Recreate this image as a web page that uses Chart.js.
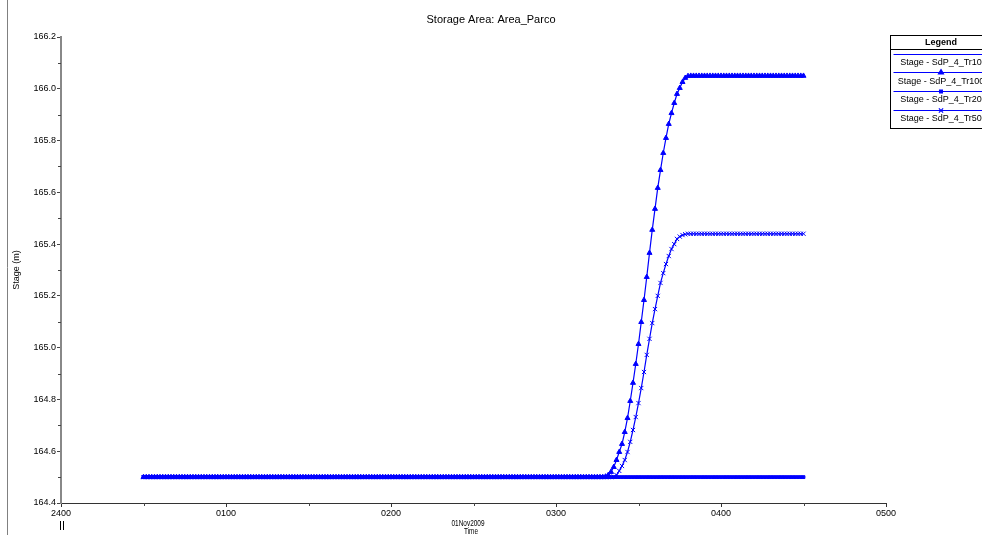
<!DOCTYPE html>
<html lang="it">
<head>
<meta charset="UTF-8">
<title>Storage Area: Area_Parco</title>
<script src="https://cdn.jsdelivr.net/npm/chart.js"></script>
<style>
    body { margin: 0; background: #fff; }
    #wrap { width: 982px; height: 535px; position: relative; }
</style>
</head>
<body>
<div id="wrap"><canvas id="stageChart"></canvas></div>

<script>
    // Stage hydrographs, one value per minute from 00:30 to 04:30 (01Nov2009)
    const chartTitle = 'Storage Area: Area_Parco';
    const seriesNames = ['Stage - SdP_4_Tr10', 'Stage - SdP_4_Tr100', 'Stage - SdP_4_Tr20', 'Stage - SdP_4_Tr50'];
    const startMinute = 30;   // minutes after 2400
    const stepMinutes = 1;
    const timeTickLabels = ['2400', '0100', '0200', '0300', '0400', '0500'];
    const minorTimeTicks = [30, 90, 150, 210, 270];
    const minorStageTicks = [164.5, 164.7, 164.9, 165.1, 165.3, 165.5, 165.7, 165.9, 166.1];

    const stageTr10 = [
        164.5, 164.5, 164.5, 164.5, 164.5, 164.5, 164.5, 164.5, 164.5, 164.5,
        164.5, 164.5, 164.5, 164.5, 164.5, 164.5, 164.5, 164.5, 164.5, 164.5,
        164.5, 164.5, 164.5, 164.5, 164.5, 164.5, 164.5, 164.5, 164.5, 164.5,
        164.5, 164.5, 164.5, 164.5, 164.5, 164.5, 164.5, 164.5, 164.5, 164.5,
        164.5, 164.5, 164.5, 164.5, 164.5, 164.5, 164.5, 164.5, 164.5, 164.5,
        164.5, 164.5, 164.5, 164.5, 164.5, 164.5, 164.5, 164.5, 164.5, 164.5,
        164.5, 164.5, 164.5, 164.5, 164.5, 164.5, 164.5, 164.5, 164.5, 164.5,
        164.5, 164.5, 164.5, 164.5, 164.5, 164.5, 164.5, 164.5, 164.5, 164.5,
        164.5, 164.5, 164.5, 164.5, 164.5, 164.5, 164.5, 164.5, 164.5, 164.5,
        164.5, 164.5, 164.5, 164.5, 164.5, 164.5, 164.5, 164.5, 164.5, 164.5,
        164.5, 164.5, 164.5, 164.5, 164.5, 164.5, 164.5, 164.5, 164.5, 164.5,
        164.5, 164.5, 164.5, 164.5, 164.5, 164.5, 164.5, 164.5, 164.5, 164.5,
        164.5, 164.5, 164.5, 164.5, 164.5, 164.5, 164.5, 164.5, 164.5, 164.5,
        164.5, 164.5, 164.5, 164.5, 164.5, 164.5, 164.5, 164.5, 164.5, 164.5,
        164.5, 164.5, 164.5, 164.5, 164.5, 164.5, 164.5, 164.5, 164.5, 164.5,
        164.5, 164.5, 164.5, 164.5, 164.5, 164.5, 164.5, 164.5, 164.5, 164.5,
        164.5, 164.5, 164.5, 164.5, 164.5, 164.5, 164.5, 164.5, 164.5, 164.5,
        164.5, 164.5, 164.5, 164.5, 164.5, 164.5, 164.5, 164.5, 164.5, 164.5,
        164.5, 164.5, 164.5, 164.5, 164.5, 164.5, 164.5, 164.5, 164.5, 164.5,
        164.5, 164.5, 164.5, 164.5, 164.5, 164.5, 164.5, 164.5, 164.5, 164.5,
        164.5, 164.5, 164.5, 164.5, 164.5, 164.5, 164.5, 164.5, 164.5, 164.5,
        164.5, 164.5, 164.5, 164.5, 164.5, 164.5, 164.5, 164.5, 164.5, 164.5,
        164.5, 164.5, 164.5, 164.5, 164.5, 164.5, 164.5, 164.5, 164.5, 164.5,
        164.5, 164.5, 164.5, 164.5, 164.5, 164.5, 164.5, 164.5, 164.5, 164.5,
        164.5
    ];

    const stageTr100 = [
        164.5, 164.5, 164.5, 164.5, 164.5, 164.5, 164.5, 164.5, 164.5, 164.5,
        164.5, 164.5, 164.5, 164.5, 164.5, 164.5, 164.5, 164.5, 164.5, 164.5,
        164.5, 164.5, 164.5, 164.5, 164.5, 164.5, 164.5, 164.5, 164.5, 164.5,
        164.5, 164.5, 164.5, 164.5, 164.5, 164.5, 164.5, 164.5, 164.5, 164.5,
        164.5, 164.5, 164.5, 164.5, 164.5, 164.5, 164.5, 164.5, 164.5, 164.5,
        164.5, 164.5, 164.5, 164.5, 164.5, 164.5, 164.5, 164.5, 164.5, 164.5,
        164.5, 164.5, 164.5, 164.5, 164.5, 164.5, 164.5, 164.5, 164.5, 164.5,
        164.5, 164.5, 164.5, 164.5, 164.5, 164.5, 164.5, 164.5, 164.5, 164.5,
        164.5, 164.5, 164.5, 164.5, 164.5, 164.5, 164.5, 164.5, 164.5, 164.5,
        164.5, 164.5, 164.5, 164.5, 164.5, 164.5, 164.5, 164.5, 164.5, 164.5,
        164.5, 164.5, 164.5, 164.5, 164.5, 164.5, 164.5, 164.5, 164.5, 164.5,
        164.5, 164.5, 164.5, 164.5, 164.5, 164.5, 164.5, 164.5, 164.5, 164.5,
        164.5, 164.5, 164.5, 164.5, 164.5, 164.5, 164.5, 164.5, 164.5, 164.5,
        164.5, 164.5, 164.5, 164.5, 164.5, 164.5, 164.5, 164.5, 164.5, 164.5,
        164.5, 164.5, 164.5, 164.5, 164.5, 164.5, 164.5, 164.5, 164.5, 164.5,
        164.5, 164.5, 164.5, 164.5, 164.5, 164.5, 164.5, 164.5, 164.5, 164.5,
        164.5, 164.5, 164.5, 164.5, 164.5, 164.5, 164.5, 164.5,
        164.502, 164.508, 164.520, 164.539, 164.566, 164.597, 164.628, 164.674, 164.728, 164.794,
        164.864, 164.937, 165.014, 165.099, 165.184, 165.273, 165.366, 165.455, 165.536, 165.617,
        165.686, 165.752, 165.810, 165.864, 165.906, 165.945, 165.980, 166.003, 166.026, 166.042,
        166.049,
        166.05, 166.05, 166.05, 166.05, 166.05, 166.05, 166.05, 166.05, 166.05, 166.05,
        166.05, 166.05, 166.05, 166.05, 166.05, 166.05, 166.05, 166.05, 166.05, 166.05,
        166.05, 166.05, 166.05, 166.05, 166.05, 166.05, 166.05, 166.05, 166.05, 166.05,
        166.05, 166.05, 166.05, 166.05, 166.05, 166.05, 166.05, 166.05, 166.05, 166.05,
        166.05, 166.05
    ];

    const stageTr20 = [
        164.5, 164.5, 164.5, 164.5, 164.5, 164.5, 164.5, 164.5, 164.5, 164.5,
        164.5, 164.5, 164.5, 164.5, 164.5, 164.5, 164.5, 164.5, 164.5, 164.5,
        164.5, 164.5, 164.5, 164.5, 164.5, 164.5, 164.5, 164.5, 164.5, 164.5,
        164.5, 164.5, 164.5, 164.5, 164.5, 164.5, 164.5, 164.5, 164.5, 164.5,
        164.5, 164.5, 164.5, 164.5, 164.5, 164.5, 164.5, 164.5, 164.5, 164.5,
        164.5, 164.5, 164.5, 164.5, 164.5, 164.5, 164.5, 164.5, 164.5, 164.5,
        164.5, 164.5, 164.5, 164.5, 164.5, 164.5, 164.5, 164.5, 164.5, 164.5,
        164.5, 164.5, 164.5, 164.5, 164.5, 164.5, 164.5, 164.5, 164.5, 164.5,
        164.5, 164.5, 164.5, 164.5, 164.5, 164.5, 164.5, 164.5, 164.5, 164.5,
        164.5, 164.5, 164.5, 164.5, 164.5, 164.5, 164.5, 164.5, 164.5, 164.5,
        164.5, 164.5, 164.5, 164.5, 164.5, 164.5, 164.5, 164.5, 164.5, 164.5,
        164.5, 164.5, 164.5, 164.5, 164.5, 164.5, 164.5, 164.5, 164.5, 164.5,
        164.5, 164.5, 164.5, 164.5, 164.5, 164.5, 164.5, 164.5, 164.5, 164.5,
        164.5, 164.5, 164.5, 164.5, 164.5, 164.5, 164.5, 164.5, 164.5, 164.5,
        164.5, 164.5, 164.5, 164.5, 164.5, 164.5, 164.5, 164.5, 164.5, 164.5,
        164.5, 164.5, 164.5, 164.5, 164.5, 164.5, 164.5, 164.5, 164.5, 164.5,
        164.5, 164.5, 164.5, 164.5, 164.5, 164.5, 164.5, 164.5, 164.5, 164.5,
        164.5, 164.5, 164.5, 164.5, 164.5, 164.5, 164.5, 164.5, 164.5, 164.5,
        164.5, 164.5, 164.5, 164.5, 164.5, 164.5, 164.5, 164.5, 164.5, 164.5,
        164.5, 164.5, 164.5, 164.5, 164.5, 164.5, 164.5, 164.5, 164.5, 164.5,
        164.5, 164.5, 164.5, 164.5, 164.5, 164.5, 164.5, 164.5, 164.5, 164.5,
        164.5, 164.5, 164.5, 164.5, 164.5, 164.5, 164.5, 164.5, 164.5, 164.5,
        164.5, 164.5, 164.5, 164.5, 164.5, 164.5, 164.5, 164.5, 164.5, 164.5,
        164.5, 164.5, 164.5, 164.5, 164.5, 164.5, 164.5, 164.5, 164.5, 164.5,
        164.5
    ];

    const stageTr50 = [
        164.5, 164.5, 164.5, 164.5, 164.5, 164.5, 164.5, 164.5, 164.5, 164.5,
        164.5, 164.5, 164.5, 164.5, 164.5, 164.5, 164.5, 164.5, 164.5, 164.5,
        164.5, 164.5, 164.5, 164.5, 164.5, 164.5, 164.5, 164.5, 164.5, 164.5,
        164.5, 164.5, 164.5, 164.5, 164.5, 164.5, 164.5, 164.5, 164.5, 164.5,
        164.5, 164.5, 164.5, 164.5, 164.5, 164.5, 164.5, 164.5, 164.5, 164.5,
        164.5, 164.5, 164.5, 164.5, 164.5, 164.5, 164.5, 164.5, 164.5, 164.5,
        164.5, 164.5, 164.5, 164.5, 164.5, 164.5, 164.5, 164.5, 164.5, 164.5,
        164.5, 164.5, 164.5, 164.5, 164.5, 164.5, 164.5, 164.5, 164.5, 164.5,
        164.5, 164.5, 164.5, 164.5, 164.5, 164.5, 164.5, 164.5, 164.5, 164.5,
        164.5, 164.5, 164.5, 164.5, 164.5, 164.5, 164.5, 164.5, 164.5, 164.5,
        164.5, 164.5, 164.5, 164.5, 164.5, 164.5, 164.5, 164.5, 164.5, 164.5,
        164.5, 164.5, 164.5, 164.5, 164.5, 164.5, 164.5, 164.5, 164.5, 164.5,
        164.5, 164.5, 164.5, 164.5, 164.5, 164.5, 164.5, 164.5, 164.5, 164.5,
        164.5, 164.5, 164.5, 164.5, 164.5, 164.5, 164.5, 164.5, 164.5, 164.5,
        164.5, 164.5, 164.5, 164.5, 164.5, 164.5, 164.5, 164.5, 164.5, 164.5,
        164.5, 164.5, 164.5, 164.5, 164.5, 164.5, 164.5, 164.5, 164.5, 164.5,
        164.5, 164.5, 164.5, 164.5, 164.5, 164.5, 164.5, 164.5, 164.5, 164.5,
        164.5,
        164.502, 164.508, 164.524, 164.543, 164.566, 164.597, 164.636, 164.682, 164.732, 164.786,
        164.844, 164.906, 164.972, 165.034, 165.095, 165.149, 165.200, 165.250, 165.288, 165.323,
        165.354, 165.381, 165.400, 165.420, 165.429, 165.435, 165.438,
        165.44, 165.44, 165.44, 165.44, 165.44, 165.44, 165.44, 165.44, 165.44, 165.44,
        165.44, 165.44, 165.44, 165.44, 165.44, 165.44, 165.44, 165.44, 165.44, 165.44,
        165.44, 165.44, 165.44, 165.44, 165.44, 165.44, 165.44, 165.44, 165.44, 165.44,
        165.44, 165.44, 165.44, 165.44, 165.44, 165.44, 165.44, 165.44, 165.44, 165.44,
        165.44, 165.44, 165.44
    ];

    const blue = '#0000ff';
    const fontName = '"Liberation Sans", Arial, sans-serif';

    // minute index -> {x, y} for the linear time axis
    const toPoints = arr => arr.map((v, i) => ({ x: startMinute + i * stepMinutes, y: v }));

    const markers = [
        { pointStyle: 'circle', pointRadius: 0 },
        { pointStyle: 'triangle', pointRadius: 2.9 },
        { pointStyle: 'rect', pointRadius: 2 },
        { pointStyle: 'crossRot', pointRadius: 3 }
    ];
    const allStages = [stageTr10, stageTr100, stageTr20, stageTr50];

    const datasets = allStages.map((arr, i) => ({
        label: seriesNames[i],
        data: toPoints(arr),
        borderColor: blue,
        backgroundColor: blue,
        borderWidth: 1.2,
        pointStyle: markers[i].pointStyle,
        pointRadius: markers[i].pointRadius,
        pointBorderWidth: 1,
        pointHoverRadius: markers[i].pointRadius,
        tension: 0,
        fill: false
    }));

    // extras: title, frame, minor ticks, axis captions, legend box
    const decorPlugin = {
        id: 'decor',
        afterDraw(chart) {
            const ctx = chart.ctx;
            const xs = chart.scales.x, ys = chart.scales.y;
            const area = chart.chartArea;
            ctx.save();

            // left frame line
            ctx.strokeStyle = '#808080';
            ctx.lineWidth = 1;
            ctx.beginPath();
            ctx.moveTo(7.5, 0);
            ctx.lineTo(7.5, 535);
            ctx.stroke();

            // minor ticks
            ctx.strokeStyle = '#444';
            ctx.beginPath();
            minorStageTicks.forEach(v => {
                const y = Math.round(ys.getPixelForValue(v)) + 0.5;
                ctx.moveTo(area.left - 3, y);
                ctx.lineTo(area.left, y);
            });
            minorTimeTicks.forEach(v => {
                const x = Math.round(xs.getPixelForValue(v)) + 0.5;
                ctx.moveTo(x, area.bottom);
                ctx.lineTo(x, area.bottom + 3);
            });
            ctx.stroke();

            ctx.fillStyle = '#000';
            ctx.textAlign = 'center';
            ctx.textBaseline = 'middle';

            // title
            ctx.font = '11px ' + fontName;
            ctx.fillText(chartTitle, 491, 20);

            // y caption
            ctx.font = '9px ' + fontName;
            ctx.save();
            ctx.translate(17, 270);
            ctx.rotate(-Math.PI / 2);
            ctx.fillText('Stage (m)', 0, 0);
            ctx.restore();

            // x captions
            ctx.font = '9px ' + fontName;
            ctx.fillText('01Nov2009', 468, 523.5, 33);
            ctx.fillText('Time', 471, 531.5, 14);

            // day break mark under 2400
            ctx.strokeStyle = '#000';
            ctx.beginPath();
            ctx.moveTo(60.5, 521); ctx.lineTo(60.5, 530);
            ctx.moveTo(63.5, 521); ctx.lineTo(63.5, 530);
            ctx.stroke();

            // legend box
            const bx = 890.5, by = 35.5, bw = 102, bh = 93;
            const cx = 941;
            ctx.fillStyle = '#fff';
            ctx.fillRect(bx, by, bw, bh);
            ctx.strokeStyle = '#000';
            ctx.strokeRect(bx, by, bw, bh);
            ctx.beginPath();
            ctx.moveTo(bx, 49.5); ctx.lineTo(bx + bw, 49.5);
            ctx.stroke();
            ctx.fillStyle = '#000';
            ctx.font = 'bold 9px ' + fontName;
            ctx.fillText('Legend', cx, 42.5);

            const lineYs = [54.5, 72.5, 91.5, 110.5];
            const textYs = [63, 81.5, 100, 119];
            ctx.font = '9px ' + fontName;
            chart.data.datasets.forEach((ds, i) => {
                ctx.strokeStyle = blue;
                ctx.fillStyle = blue;
                ctx.lineWidth = 1.2;
                ctx.beginPath();
                ctx.moveTo(bx + 3, lineYs[i]);
                ctx.lineTo(bx + bw, lineYs[i]);
                ctx.stroke();
                if (ds.pointRadius > 0) {
                    Chart.helpers.drawPoint(ctx, {
                        pointStyle: ds.pointStyle,
                        radius: ds.pointRadius,
                        rotation: 0,
                        borderWidth: 1
                    }, cx, lineYs[i]);
                }
                ctx.fillStyle = '#000';
                ctx.fillText(ds.label, cx, textYs[i]);
            });

            ctx.restore();
        }
    };

    const ctx = document.getElementById('stageChart').getContext('2d');
    const stageChart = new Chart(ctx, {
        type: 'line',
        data: { datasets: datasets },
        options: {
            responsive: true,
            maintainAspectRatio: false,
            animation: false,
            devicePixelRatio: 1,
            layout: { padding: { top: 37, right: 96, bottom: 0, left: 0 } },
            plugins: {
                legend: { display: false },
                title: { display: false },
                tooltip: { enabled: false }
            },
            scales: {
                x: {
                    type: 'linear',
                    min: 0,
                    max: 300,
                    afterFit: s => { s.height = 32; },
                    grid: { display: true, drawOnChartArea: false, tickLength: 4, tickColor: '#333' },
                    border: { display: true, color: '#333', width: 1 },
                    ticks: {
                        stepSize: 60,
                        autoSkip: false,
                        maxRotation: 0,
                        padding: 1,
                        color: '#000',
                        font: { family: fontName, size: 9 },
                        callback: (v) => timeTickLabels[Math.round(v / 60)]
                    }
                },
                y: {
                    type: 'linear',
                    min: 164.4,
                    max: 166.2,
                    afterFit: s => { s.width = 61; },
                    grid: { display: true, drawOnChartArea: false, tickLength: 4, tickColor: '#444' },
                    border: { display: true, color: '#888', width: 2 },
                    ticks: {
                        stepSize: 0.2,
                        padding: 1,
                        color: '#000',
                        font: { family: fontName, size: 9 },
                        callback: (v) => Number(v).toFixed(1)
                    }
                }
            }
        },
        plugins: [decorPlugin]
    });
</script>
</body>
</html>
